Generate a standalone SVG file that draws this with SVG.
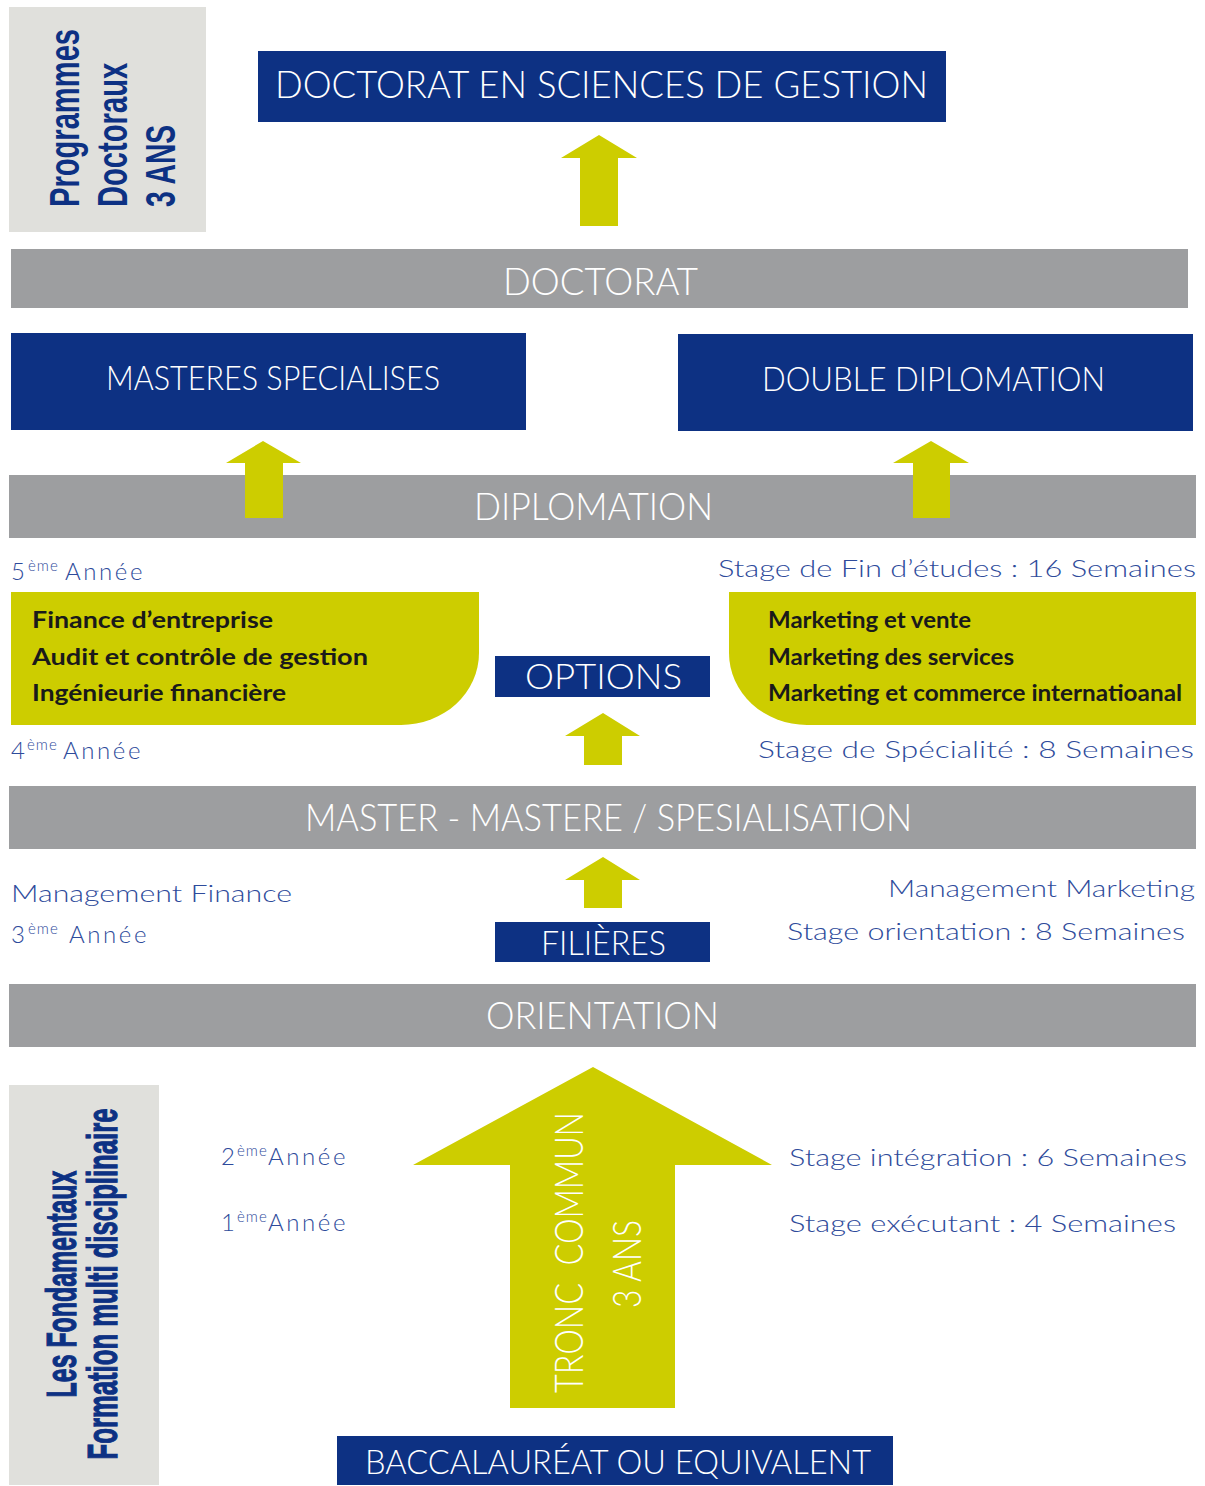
<svg xmlns="http://www.w3.org/2000/svg" width="1205" height="1486" viewBox="0 0 1205 1486">
<style>
.bg{fill:#ffffff}
.panel{fill:#e0e0dc}
.box{fill:#0d3183}
.bar{fill:#9d9ea0}
.yel{fill:#cdcd00}
.arrow{fill:#cdcd00}
.cap{font-family:Lato,"Open Sans","DejaVu Sans",sans-serif;font-weight:300;fill:#ffffff}
.lbl{font-family:Lato,"Open Sans","DejaVu Sans",sans-serif;font-weight:300;fill:#2e4b9b;font-size:24px}
.sup{font-size:15px;letter-spacing:1px}
.yr{letter-spacing:2.6px}
.opt{font-family:Lato,"Open Sans","DejaVu Sans",sans-serif;font-weight:700;fill:#1a1a1a;font-size:22px}
.vert{font-family:"Liberation Sans",Arial,sans-serif;font-weight:700;fill:#0d3183;font-size:42px}
.heavy{stroke:#0d3183;stroke-width:1.2px}
</style>
<rect class="bg" x="0" y="0" width="1205" height="1486"/>

<g id="side-top">
<rect class="panel" x="9" y="7" width="197" height="225"/>
<text class="vert" transform="translate(79,207) rotate(-90) scale(0.69,1)" textLength="258" lengthAdjust="spacingAndGlyphs">Programmes</text>
<text class="vert" transform="translate(127,207) rotate(-90) scale(0.69,1)" textLength="209" lengthAdjust="spacingAndGlyphs">Doctoraux</text>
<text class="vert" transform="translate(175,207) rotate(-90) scale(0.69,1)" textLength="119" lengthAdjust="spacingAndGlyphs">3 ANS</text>
</g>

<g id="side-bottom">
<rect class="panel" x="9" y="1085" width="150" height="400"/>
<text class="vert heavy" text-anchor="middle" transform="translate(76,1284) rotate(-90) scale(0.58,1)" textLength="391" lengthAdjust="spacingAndGlyphs">Les Fondamentaux</text>
<text class="vert heavy" text-anchor="middle" transform="translate(117,1284) rotate(-90) scale(0.58,1)" textLength="605" lengthAdjust="spacingAndGlyphs">Formation multi disciplinaire</text>
</g>

<g id="doctorat-sciences">
<rect class="box" x="258" y="51" width="688" height="71"/>
<text class="cap" x="275" y="98" font-size="37" textLength="653" lengthAdjust="spacingAndGlyphs">DOCTORAT EN SCIENCES DE GESTION</text>
</g>

<g id="doctorat">
<rect class="bar" x="11" y="249" width="1177" height="59"/>
<text class="cap" x="503" y="295" font-size="38" textLength="195" lengthAdjust="spacingAndGlyphs">DOCTORAT</text>
</g>

<g id="masteres">
<rect class="box" x="11" y="333" width="515" height="97"/>
<text class="cap" x="106" y="390" font-size="34" textLength="334" lengthAdjust="spacingAndGlyphs">MASTERES SPECIALISES</text>
</g>

<g id="double">
<rect class="box" x="678" y="334" width="515" height="97"/>
<text class="cap" x="762" y="391" font-size="34" textLength="343" lengthAdjust="spacingAndGlyphs">DOUBLE DIPLOMATION</text>
</g>

<g id="diplomation">
<rect class="bar" x="9" y="475" width="1187" height="63"/>
<text class="cap" x="474" y="520" font-size="38" textLength="239" lengthAdjust="spacingAndGlyphs">DIPLOMATION</text>
</g>

<g id="options-finance">
<path class="yel" d="M11,592 H479 V653 A78,72 0 0 1 401,725 H11 Z"/>
<text class="opt" x="32" y="628" textLength="241" lengthAdjust="spacingAndGlyphs">Finance d’entreprise</text>
<text class="opt" x="32" y="665" textLength="336" lengthAdjust="spacingAndGlyphs">Audit et contrôle de gestion</text>
<text class="opt" x="32" y="701" textLength="254" lengthAdjust="spacingAndGlyphs">Ingénieurie financière</text>
</g>

<g id="options-marketing">
<path class="yel" d="M729,592 H1196 V725 H807 A78,72 0 0 1 729,653 Z"/>
<text class="opt" x="768" y="628" textLength="203" lengthAdjust="spacingAndGlyphs">Marketing et vente</text>
<text class="opt" x="768" y="665" textLength="246" lengthAdjust="spacingAndGlyphs">Marketing des services</text>
<text class="opt" x="768" y="701" textLength="414" lengthAdjust="spacingAndGlyphs">Marketing et commerce internatioanal</text>
</g>

<g id="options">
<rect class="box" x="495" y="656" width="215" height="41"/>
<text class="cap" x="525" y="689" font-size="36" textLength="157" lengthAdjust="spacingAndGlyphs">OPTIONS</text>
</g>

<g id="master">
<rect class="bar" x="9" y="786" width="1187" height="63"/>
<text class="cap" x="305" y="831" font-size="38" textLength="607" lengthAdjust="spacingAndGlyphs">MASTER - MASTERE / SPESIALISATION</text>
</g>

<g id="filieres">
<rect class="box" x="495" y="922" width="215" height="40"/>
<text class="cap" x="541" y="955" font-size="34" textLength="125" lengthAdjust="spacingAndGlyphs">FILIÈRES</text>
</g>

<g id="orientation">
<rect class="bar" x="9" y="984" width="1187" height="63"/>
<text class="cap" x="486" y="1029" font-size="38" textLength="233" lengthAdjust="spacingAndGlyphs">ORIENTATION</text>
</g>

<g id="bac">
<rect class="box" x="337" y="1436" width="556" height="49"/>
<text class="cap" x="365" y="1474" font-size="33" textLength="506" lengthAdjust="spacingAndGlyphs">BACCALAURÉAT OU EQUIVALENT</text>
</g>

<g id="labels">
<text class="lbl" y="580"><tspan x="11">5</tspan><tspan x="28" dy="-9" class="sup">ème</tspan><tspan x="65" dy="9" class="yr">Année</tspan></text>
<text class="lbl" y="759"><tspan x="11">4</tspan><tspan x="27" dy="-9" class="sup">ème</tspan><tspan x="63" dy="9" class="yr">Année</tspan></text>
<text class="lbl" y="943"><tspan x="11">3</tspan><tspan x="28" dy="-9" class="sup">ème</tspan><tspan x="69" dy="9" class="yr">Année</tspan></text>
<text class="lbl" y="1165"><tspan x="221">2</tspan><tspan x="237" dy="-9" class="sup">ème</tspan><tspan x="268" dy="9" class="yr">Année</tspan></text>
<text class="lbl" y="1231"><tspan x="221">1</tspan><tspan x="237" dy="-9" class="sup">ème</tspan><tspan x="268" dy="9" class="yr">Année</tspan></text>
<text class="lbl" x="718" y="577" textLength="478" lengthAdjust="spacingAndGlyphs">Stage de Fin d’études : 16 Semaines</text>
<text class="lbl" x="758" y="758" textLength="436" lengthAdjust="spacingAndGlyphs">Stage de Spécialité : 8 Semaines</text>
<text class="lbl" x="11" y="902" textLength="281" lengthAdjust="spacingAndGlyphs">Management Finance</text>
<text class="lbl" x="888" y="897" textLength="307" lengthAdjust="spacingAndGlyphs">Management Marketing</text>
<text class="lbl" x="787" y="940" textLength="398" lengthAdjust="spacingAndGlyphs">Stage orientation : 8 Semaines</text>
<text class="lbl" x="789" y="1166" textLength="398" lengthAdjust="spacingAndGlyphs">Stage intégration : 6 Semaines</text>
<text class="lbl" x="789" y="1232" textLength="387" lengthAdjust="spacingAndGlyphs">Stage exécutant : 4 Semaines</text>
</g>

<g id="connectors">
<polygon class="arrow" points="599,135 637,158 618,158 618,226 580,226 580,158 561,158"/>
<polygon class="arrow" points="263,441 301,463 283,463 283,518 245,518 245,463 226,463"/>
<polygon class="arrow" points="931,441 969,463 950,463 950,518 913,518 913,463 893,463"/>
<polygon class="arrow" points="603,713 640,736 622,736 622,765 584,765 584,736 565,736"/>
<polygon class="arrow" points="603,857 640,880 622,880 622,908 584,908 584,880 565,880"/>
<polygon class="arrow" points="593,1067 772,1165 675,1165 675,1408 510,1408 510,1165 413,1165"/>
</g>

<g id="tronc-commun">
<text class="cap" font-size="40" transform="translate(583,1393) rotate(-90)" textLength="281" lengthAdjust="spacingAndGlyphs" xml:space="preserve">TRONC  COMMUN</text>
<text class="cap" font-size="40" transform="translate(641,1308) rotate(-90)" textLength="88" lengthAdjust="spacingAndGlyphs">3 ANS</text>
</g>
</svg>
